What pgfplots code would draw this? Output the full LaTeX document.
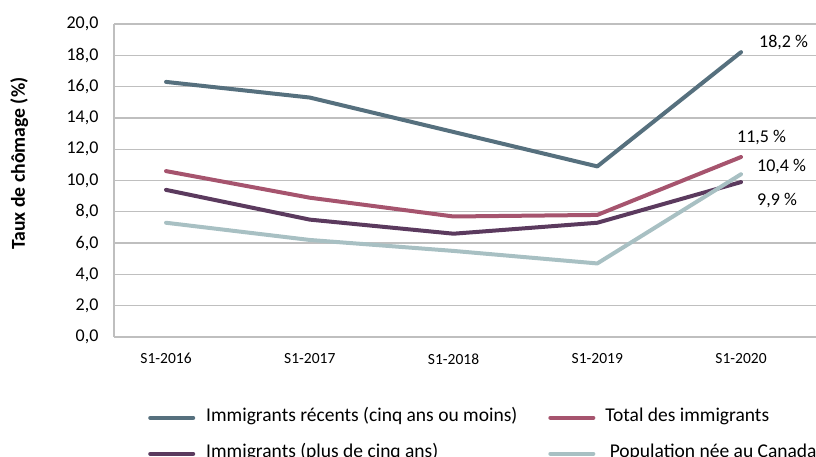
\documentclass[border=0pt]{standalone}
\usepackage{fontspec}
\setmainfont{Carlito}
\usepackage{pgfplots}
\pgfplotsset{compat=1.18}
\definecolor{crecent}{HTML}{56707E}
\definecolor{ctotal}{HTML}{A6546E}
\definecolor{cplus}{HTML}{5B3A5E}
\definecolor{ccan}{HTML}{A8C0C3}
\definecolor{cgrid}{HTML}{BFBFBF}
\begin{document}
\begin{tikzpicture}
\path[use as bounding box, clip] (0,0) rectangle (816pt,457pt);
\begin{axis}[
  at={(114pt,120pt)}, anchor=south west,
  x=143.75pt, y=15.65pt,
  xmin=-0.362, xmax=4.6, ymin=0, ymax=20,
  axis x line*=bottom, axis y line*=left,
  axis line style={draw=cgrid, line width=1.3pt},
  every outer x axis line/.append style={-}, every outer y axis line/.append style={-},
  ytick={0,2,...,20}, ymajorgrids,
  grid style={draw=cgrid, line width=1.3pt},
  xtick={0,1,2,3,4},
  xticklabels={S1-2016,S1-2017,S1-2018,S1-2019,S1-2020},
  major tick length=0pt,
  /pgf/number format/assume math mode=true,
  yticklabel={\pgfmathprintnumber[fixed,fixed zerofill,precision=1,use comma]{\tick}},
  yticklabel style={font=\fontsize{18}{20}\selectfont, xshift=-12pt},
  xticklabel style={font=\fontsize{15.5}{18}\selectfont, yshift=-13pt},
  ylabel={\bfseries Taux de chômage (\%)},
  ylabel style={at={(axis description cs:-0.133,0.554)}, anchor=center, font=\fontsize{19.7}{22}\selectfont},
  clip=false,
  legend columns=2,
  legend cell align=left,
  legend image code/.code={\draw[#1] (0pt,0pt) -- (43pt,0pt);},
  legend style={at={(axis description cs:0.0477,-0.232)}, anchor=north west, draw=none, fill=none,
    inner sep=0pt, font=\fontsize{19.5}{22}\selectfont,
    nodes={inner sep=0pt, text height=12pt, text depth=4pt},
    row sep=20pt,
    /tikz/column 2/.style={column sep=31pt},
    /tikz/column 1/.style={column sep=11pt},
    /tikz/column 3/.style={column sep=10pt}},
  every axis plot/.append style={line width=4pt, line join=round, line cap=round}
]
\addplot[crecent] coordinates {(0,16.3) (1,15.3) (2,13.1) (3,10.9) (4,18.2)};
\addlegendentry{Immigrants récents (cinq ans ou moins)}
\addplot[ctotal] coordinates {(0,10.6) (1,8.9) (2,7.7) (3,7.8) (4,11.5)};
\addlegendentry{Total des immigrants}
\addplot[cplus] coordinates {(0,9.4) (1,7.5) (2,6.6) (3,7.3) (4,9.9)};
\addlegendentry{Immigrants (plus de cinq ans)}
\addplot[ccan] coordinates {(0,7.3) (1,6.2) (2,5.5) (3,4.7) (4,10.4)};
\addlegendentry{\ Population née au Canada}
\begin{scope}[every node/.style={font=\fontsize{18}{20}\selectfont, anchor=west, inner sep=0pt}]
\node[xshift=18pt, yshift=10pt] at (axis cs:4,18.2) {18,2 \%};
\node[xshift=-4pt, yshift=20pt] at (axis cs:4,11.5) {11,5 \%};
\node[xshift=16pt, yshift=8pt] at (axis cs:4,10.4) {10,4 \%};
\node[xshift=16pt, yshift=-18pt] at (axis cs:4,9.9) {9,9 \%};
\end{scope}
\end{axis}
\end{tikzpicture}
\end{document}
